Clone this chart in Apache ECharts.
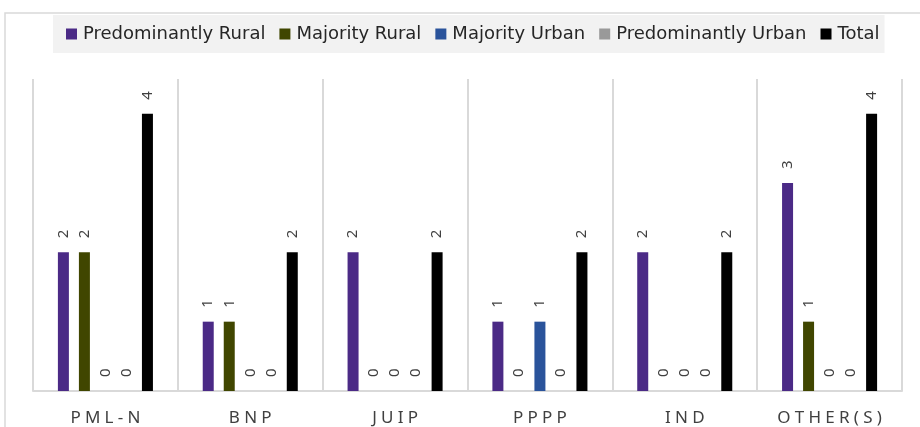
<!DOCTYPE html>
<html>
<head>
<meta charset="utf-8">
<script src="https://cdn.jsdelivr.net/npm/echarts@6/dist/echarts.min.js"></script>
<style>html,body{margin:0;padding:0;background:#fff;}#c{width:920px;height:427px;}</style>
</head>
<body>
<div id="c"></div>
<script>
const categories = ['PML-N', 'BNP', 'JUIP', 'PPPP', 'IND', 'OTHER(S)'];
const seriesNames = ['Predominantly Rural', 'Majority Rural', 'Majority Urban', 'Predominantly Urban', 'Total'];
const predominantlyRural = [2, 1, 2, 1, 2, 3];
const majorityRural = [2, 1, 0, 0, 0, 1];
const majorityUrban = [0, 0, 0, 1, 0, 0];
const predominantlyUrban = [0, 0, 0, 0, 0, 0];
const total = [4, 2, 2, 2, 2, 4];
const colors = ['#4b2a86', '#404600', '#2a539b', '#999999', '#000000'];

const FONT = '"Noto Sans", "Open Sans", sans-serif';
const LEGEND_FONT = '"DejaVu Sans", "Noto Sans", sans-serif';
const values = [predominantlyRural, majorityRural, majorityUrban, predominantlyUrban, total];

const chart = echarts.init(document.getElementById('c'), null, {renderer: 'canvas'});
chart.setOption({
  animation: false,
  backgroundColor: '#ffffff',
  color: colors,
  graphic: [{
    type: 'polyline',
    shape: {points: [[5, 427], [5, 13], [920, 13]]},
    style: {stroke: '#d9d9d9', lineWidth: 1.5, fill: null},
    silent: true
  }],
  legend: {
    left: 53,
    top: 15,
    padding: [10, 5, 10, 13],
    backgroundColor: '#f2f2f2',
    itemWidth: 11,
    itemHeight: 11,
    itemGap: 14,
    icon: 'rect',
    textStyle: {fontFamily: LEGEND_FONT, fontSize: 18, color: '#262626', padding: [0, 0, 0, 1]},
    data: seriesNames
  },
  grid: {left: 33, right: 18, top: 79, bottom: 36, containLabel: false},
  xAxis: {
    type: 'category',
    data: categories,
    boundaryGap: true,
    axisTick: {show: false},
    axisLine: {show: true, lineStyle: {color: '#d9d9d9', width: 2}},
    splitLine: {show: true, interval: 0, lineStyle: {color: '#d9d9d9', width: 2}},
    axisLabel: {
      interval: 0,
      margin: 19,
      fontFamily: FONT,
      fontSize: 17,
      color: '#404040',
      formatter: v => v.split('').join('\u2005')
    }
  },
  yAxis: {
    type: 'value',
    min: 0,
    max: 4.5,
    show: false,
    splitLine: {show: false}
  },
  series: seriesNames.map((name, i) => ({
    name: name,
    type: 'bar',
    data: values[i],
    barWidth: 11,
    barGap: '91%',
    itemStyle: {color: colors[i]},
    label: {
      show: true,
      position: 'top',
      rotate: 90,
      align: 'left',
      verticalAlign: 'middle',
      distance: 14,
      fontFamily: FONT,
      fontSize: 15,
      color: '#404040'
    }
  }))
});
</script>
</body>
</html>
